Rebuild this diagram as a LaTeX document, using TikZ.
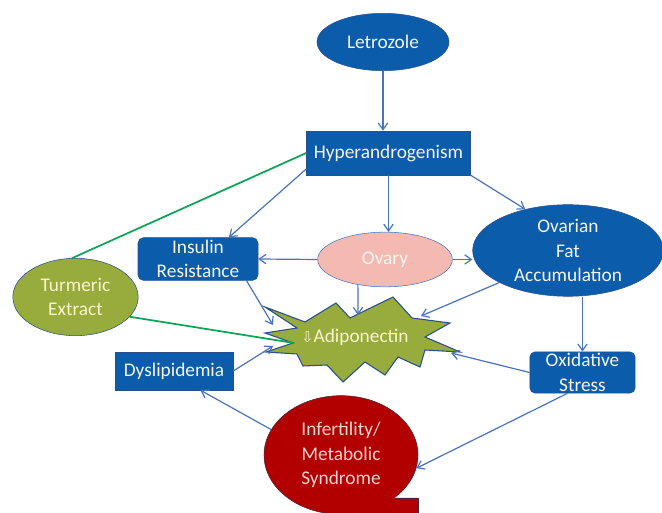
\documentclass[tikz,border=0pt]{standalone}
\usepackage{fontspec}
\setmainfont{Carlito}
\newfontfamily\symfont{DejaVu Sans}
\usepackage{xcolor}
\usetikzlibrary{shapes.geometric,arrows.meta}

\definecolor{boxblue}{RGB}{12,92,172}
\definecolor{boxline}{RGB}{40,80,140}
\definecolor{arrowblue}{RGB}{72,116,190}
\definecolor{linegreen}{RGB}{10,165,85}
\definecolor{olive}{RGB}{152,172,62}
\definecolor{olivetext}{RGB}{250,246,205}
\definecolor{ovarypink}{RGB}{244,186,178}
\definecolor{infred}{RGB}{178,0,0}
\definecolor{infline}{RGB}{70,40,60}
\definecolor{paletext}{RGB}{246,246,238}

\begin{document}
\begin{tikzpicture}[x=0.75pt,y=0.75pt,yscale=-1,xscale=1,
  every node/.style={font=\fontsize{14.5}{18.5}\selectfont,text=paletext,align=center,inner sep=0.75pt},
  bluebox/.style={rectangle,draw=boxline,fill=boxblue},
  roundbox/.style={bluebox,rounded corners=4pt},
  blueoval/.style={ellipse,draw=boxline,fill=boxblue},
  arr/.style={draw=arrowblue,line width=0.9pt,-{Straight Barb[length=5pt,width=7pt]}},
  greenline/.style={draw=linegreen,line width=1.3pt}]
\useasboundingbox (0,0) rectangle (662,513);
\clip (0,0) rectangle (662,513);

%Shape: Ellipse [Letrozole]
\node (letro) [blueoval,minimum width=99pt,minimum height=43pt] at (383,42) {Letrozole};
%Shape: Rectangle [Hyperandrogenism]
\node (hyper) [bluebox,minimum width=123pt,minimum height=33pt] at (388.5,153) {Hyperandrogenism};
%Shape: Rounded Rectangle [Insulin]
\node (insulin) [roundbox,minimum width=90pt,minimum height=32pt] at (198,259) {Insulin\\Resistance};
%Shape: Ellipse [Ovary]
\node (ovary) [ellipse,draw=arrowblue,fill=ovarypink,minimum width=101pt,minimum height=41pt] at (385,259.5) {Ovary};
%Shape: Ellipse [Ovarian Fat]
\node (fat) [blueoval,minimum width=143pt,minimum height=64pt] at (568,250.5) {Ovarian\\Fat\\Accumulation};
%Shape: Ellipse [Turmeric]
\node (turmeric) [ellipse,draw=boxline,fill=olive,text=olivetext,minimum width=94pt,minimum height=58pt] at (75.5,297) {Turmeric\\Extract};
%Shape: Rectangle [Dyslipidemia]
\node (dyslip) [bluebox,minimum width=88.5pt,minimum height=28.5pt] at (174,371) {Dyslipidemia};
%Shape: Rounded Rectangle [Oxidative]
\node (oxid) [roundbox,minimum width=79pt,minimum height=31pt] at (582.5,372.5) {Oxidative\\Stress};

%Shape: Explosion [Adiponectin]
\draw [draw=boxline,fill=olive,line width=0.8pt,line join=miter]
  (265,307) -- (305,322) -- (336,303) -- (350,318) -- (393,297) -- (412,318)
  -- (450,323) -- (425,337) -- (460,352) -- (425,350) -- (420,367) -- (398,357)
  -- (385,375) -- (365,362) -- (343,382) -- (327,365) -- (303,366) -- (297,354)
  -- (266,352) -- (293,343) -- (265,333) -- (297,328) -- cycle;
\node (adipo) [text=olivetext] at (355,337) {{\symfont\fontsize{11}{12}\selectfont ⇩}Adiponectin};
\coordinate (adipoNW) at (273,325);
\coordinate (adipoW) at (273,346);
\coordinate (adipoG) at (294,343);
\coordinate (adipoN) at (358,315);
\coordinate (adipoNE) at (421,316);
\coordinate (adipoE) at (451,353);

%Shape: Callout [Infertility]
\node (infert) [ellipse,draw=infline,fill=infred,text=ovarypink!60!white,minimum width=115.5pt,minimum height=89pt] at (341,455) {Infertility/\\Metabolic\\Syndrome};
\fill [infred] (395,498) -- (418,498) -- (418,520) -- (340,520) -- cycle;
\draw [infline,line width=0.6pt] (394.5,498) -- (418,498) -- (418,520);

% Connectors
\draw [arr] (letro.south) -- (letro.south |- hyper.north);
\draw [arr] (hyper.191) -- (insulin.35);
\draw [arr] (hyper.south) -- (hyper.south |- ovary.north);
\draw [arr] (hyper.south east) -- (fat.136);
\draw [greenline] (hyper.west) -- (turmeric.95);
\draw [arr] (ovary.west) -- (insulin.east);
\draw [arr] (ovary.east) -- (ovary.east -| fat.west);
\draw [arr] (ovary.223) -- (adipoN);
\draw [arr] (insulin.-24) -- (adipoNW);
\draw [arr] (dyslip.east) -- (adipoW);
\draw [greenline] (turmeric.-20) -- (adipoG);
\draw [arr] (fat.205) -- (adipoNE);
\draw [arr] (oxid.north |- fat.south) -- (oxid.north);
\draw [arr] (oxid.west) -- (adipoE);
\draw [arr] (oxid.234) -- (infert.-10);
\draw [arr] (infert.160) -- (dyslip.-36);

\end{tikzpicture}
\end{document}
